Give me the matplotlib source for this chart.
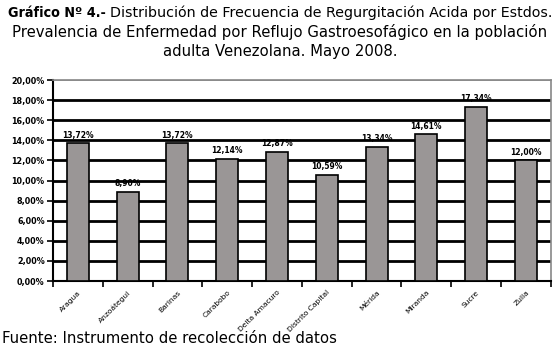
import matplotlib
matplotlib.use("Agg")
import matplotlib.pyplot as plt
import numpy as np

estados = ["Aragua", "Anzoátegui", "Barinas", "Carabobo", "Delta Amacuro",
           "Distrito Capital", "Mérida", "Miranda", "Sucre", "Zulia"]
valores = [13.72, 8.90, 13.72, 12.14, 12.87, 10.59, 13.34, 14.61, 17.34, 12.00]
yticks = [0, 2, 4, 6, 8, 10, 12, 14, 16, 18, 20]

fig = plt.figure(figsize=(5.6, 3.58), dpi=100)
ax = fig.add_axes([0.0946, 0.215, 0.889, 0.5615])

x = np.arange(len(estados))
ax.set_xlim(-0.5, len(estados) - 0.5)
ax.set_ylim(0, 20)
for yv in yticks[1:-1]:
    ax.axhline(yv, color="black", lw=2.0, zorder=1)
ax.axhline(20, color="#888888", lw=1.2, zorder=1)
bars = ax.bar(x, valores, width=0.44, color="#9a9696", edgecolor="black",
              linewidth=1.2, zorder=3)
for xi, v in zip(x, valores):
    ax.text(xi, v + 0.35, f"{v:.2f}%".replace(".", ","), ha="center", va="bottom",
            fontsize=5.5, fontweight="bold", zorder=4)

ax.set_yticks(yticks)
ax.set_yticklabels([f"{v:.2f}%".replace(".", ",") for v in yticks],
                   fontsize=5.8, fontweight="bold")
ax.set_xticks(x)
ax.set_xticklabels(estados, rotation=45, ha="right", rotation_mode="anchor",
                   fontsize=5.4)
ax.tick_params(axis="x", length=0, pad=6)
ax.set_xticks(np.arange(-0.5, len(estados), 1), minor=True)
ax.tick_params(axis="x", which="minor", length=4, width=1.2, direction="out")
ax.tick_params(axis="y", length=4, width=1.2, direction="out", pad=2)

for s in ["left", "bottom"]:
    ax.spines[s].set_color("black")
    ax.spines[s].set_linewidth(1.5)
for s in ["right", "top"]:
    ax.spines[s].set_color("#888888")
    ax.spines[s].set_linewidth(1.2)

fam = "DejaVu Sans"
fig.canvas.draw()
r = fig.canvas.get_renderer()
W = fig.bbox.width

probe = fig.text(0.5, 0.5, "Prevalencia de Enfermedad por Reflujo Gastroesofágico en la población",
                 fontsize=10, family=fam)
pw = probe.get_window_extent(r).width
probe.remove()
fs = 10 * 535 / pw

# first line: bold prefix + regular text, fit to ~547 px
t1 = fig.text(0.5, 0.963, "Distribución de Frecuencia de Regurgitación Acida por Estdos.",
              fontsize=10, va="center", ha="left", family=fam)
t0 = fig.text(0.5, 0.963, "Gráfico Nº 4.- ", fontsize=10, fontweight="bold",
              fontstretch="condensed", va="center", ha="left", family=fam)
fig.canvas.draw()
tot = t0.get_window_extent(r).width + t1.get_window_extent(r).width
fs1 = min(fs, 10 * 547 / tot)
t0.set_fontsize(fs1)
t1.set_fontsize(fs1)
fig.canvas.draw()
w0 = t0.get_window_extent(r).width
w1 = t1.get_window_extent(r).width
start = (W - (w0 + w1)) / 2
t0.set_x(start / W)
t1.set_x((start + w0) / W)

fig.text(0.5, 0.91, "Prevalencia de Enfermedad por Reflujo Gastroesofágico en la población",
         fontsize=fs, ha="center", va="center", family=fam)
fig.text(0.5, 0.857, "adulta Venezolana. Mayo 2008.", fontsize=fs, ha="center", va="center",
         family=fam)
fig.text(0.003, 0.055, "Fuente: Instrumento de recolección de datos", fontsize=fs,
         ha="left", va="center", family=fam)

fig.savefig("out.png", dpi=100)
